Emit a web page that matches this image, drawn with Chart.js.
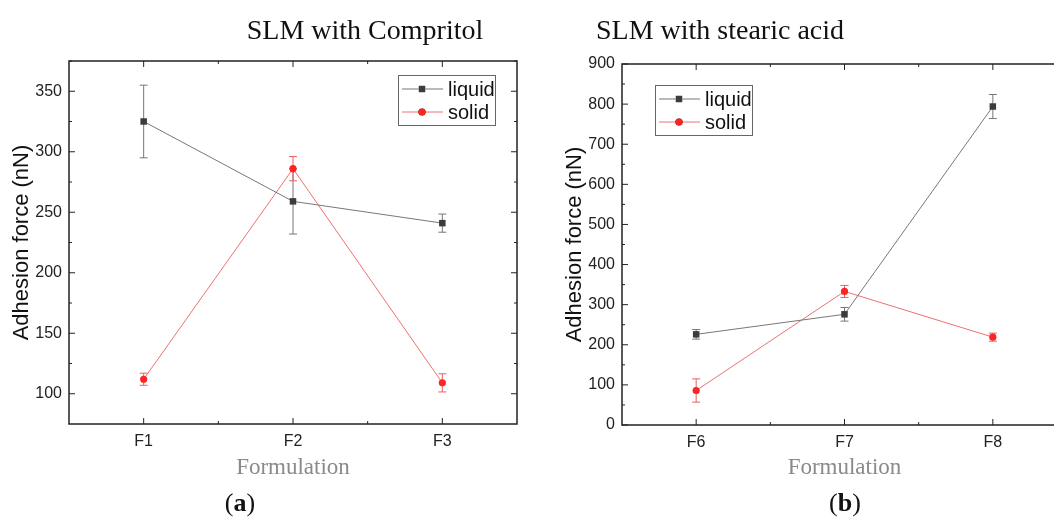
<!DOCTYPE html>
<html>
<head>
<meta charset="utf-8">
<script src="https://cdn.jsdelivr.net/npm/chart.js@4.4.1/dist/chart.umd.min.js"></script>
<style>
  html, body { margin: 0; padding: 0; background: #fff; overflow: hidden; width: 1054px; height: 522px; }
  .box { position: absolute; top: 0; }
  .txt { position: absolute; font-family: "Liberation Serif", serif; color: #111; white-space: nowrap; transform: translate(-50%, -50%); }
</style>
</head>
<body>
<div class="box" style="left:0"><canvas id="chartA" width="540" height="522"></canvas></div>
<div class="box" style="left:540px"><canvas id="chartB" width="540" height="522"></canvas></div>
<div class="txt" style="left:365px;top:30px;font-size:28px">SLM with Compritol</div>
<div class="txt" style="left:720px;top:30px;font-size:28px">SLM with stearic acid</div>
<div class="txt" style="left:240px;top:503px;font-size:26px">(<b>a</b>)</div>
<div class="txt" style="left:845px;top:503px;font-size:26px">(<b>b</b>)</div>
<script>
// panel (a): SLM with Compritol
const labelsA = ['F1', 'F2', 'F3'];
const liquidA = [325, 259, 241];
const liquidErrA = [30, 27, 7.5];
const solidA = [112, 286, 109];
const solidErrA = [5, 10, 7.5];
const yTicksA = [100, 150, 200, 250, 300, 350];

// panel (b): SLM with stearic acid
const labelsB = ['F6', 'F7', 'F8'];
const liquidB = [226, 276, 794];
const liquidErrB = [12, 17, 30];
const solidB = [86, 333, 219];
const solidErrB = [29, 15, 10];
const yTicksB = [0, 100, 200, 300, 400, 500, 600, 700, 800, 900];

const SANS = '"Liberation Sans", Arial, sans-serif';
const SERIF = '"Liberation Serif", serif';

function toPoints(values) {
  return values.map((v, i) => ({x: i + 1, y: v}));
}

// error bars drawn under the markers
const errorBars = {
  id: 'errorBars',
  beforeDatasetsDraw(chart) {
    const {ctx, scales: {x, y}} = chart;
    ctx.save();
    chart.data.datasets.forEach(ds => {
      ctx.strokeStyle = ds.errColor;
      ctx.lineWidth = 1;
      ds.data.forEach((p, i) => {
        const px = x.getPixelForValue(p.x);
        const top = y.getPixelForValue(p.y + ds.err[i]);
        const bot = y.getPixelForValue(p.y - ds.err[i]);
        ctx.beginPath();
        ctx.moveTo(px, top); ctx.lineTo(px, bot);
        ctx.moveTo(px - 4, top); ctx.lineTo(px + 4, top);
        ctx.moveTo(px - 4, bot); ctx.lineTo(px + 4, bot);
        ctx.stroke();
      });
    });
    ctx.restore();
  }
};

// Origin-style closed frame with inward ticks
const frame = {
  id: 'frame',
  afterDraw(chart, args, opts) {
    const {ctx, chartArea: a, scales: {x, y}} = chart;
    ctx.save();
    ctx.strokeStyle = '#222';
    ctx.lineWidth = 1.5;
    ctx.strokeRect(a.left, a.top, a.right - a.left, a.bottom - a.top);
    ctx.lineWidth = 1;
    const yt = opts.yTicks;
    const step = yt[1] - yt[0];
    yt.forEach((v, i) => {
      [[v, 6], [v + step / 2, 3]].forEach(([val, len]) => {
        if (val > y.max) return;
        const py = y.getPixelForValue(val);
        ctx.beginPath();
        ctx.moveTo(a.left, py); ctx.lineTo(a.left + len, py);
        ctx.moveTo(a.right, py); ctx.lineTo(a.right - len, py);
        ctx.stroke();
      });
      if (i === 0 && v - step / 2 > y.min) {
        const py = y.getPixelForValue(v - step / 2);
        ctx.beginPath();
        ctx.moveTo(a.left, py); ctx.lineTo(a.left + 3, py);
        ctx.moveTo(a.right, py); ctx.lineTo(a.right - 3, py);
        ctx.stroke();
      }
    });
    [1, 1.5, 2, 2.5, 3].forEach(val => {
      const len = Number.isInteger(val) ? 6 : 3;
      const px = x.getPixelForValue(val);
      ctx.beginPath();
      ctx.moveTo(px, a.top); ctx.lineTo(px, a.top + len);
      ctx.moveTo(px, a.bottom); ctx.lineTo(px, a.bottom - len);
      ctx.stroke();
    });
    ctx.restore();
  }
};

// boxed legend inside the plot
const boxLegend = {
  id: 'boxLegend',
  afterDraw(chart, args, opts) {
    const {ctx, chartArea: a} = chart;
    const bx = opts.side === 'right' ? a.right - opts.dx - 97 : a.left + opts.dx;
    const by = a.top + opts.dy;
    ctx.save();
    ctx.fillStyle = '#fff';
    ctx.fillRect(bx, by, 97, 50);
    ctx.strokeStyle = '#666';
    ctx.lineWidth = 1;
    ctx.strokeRect(bx + 0.5, by + 0.5, 97, 50);
    chart.data.datasets.forEach((ds, i) => {
      const ly = by + 14 + i * 23;
      ctx.strokeStyle = ds.borderColor;
      ctx.beginPath();
      ctx.moveTo(bx + 4, ly); ctx.lineTo(bx + 45, ly);
      ctx.stroke();
      Chart.helpers.drawPoint(ctx, {pointStyle: ds.pointStyle, radius: ds.pointRadius, borderWidth: 0}, bx + 24, ly);
      ctx.fillStyle = ds.pointBackgroundColor;
      ctx.fill();
      ctx.fillStyle = '#111';
      ctx.font = '20px ' + SANS;
      ctx.textBaseline = 'middle';
      ctx.fillText(ds.label, bx + 50, ly + 1);
    });
    ctx.restore();
  }
};

function makeChart(id, o) {
  const ctx = document.getElementById(id).getContext('2d');
  return new Chart(ctx, {
    type: 'line',
    data: {
      datasets: [
        {
          label: 'liquid',
          data: toPoints(o.liquid),
          err: o.liquidErr,
          errColor: '#777',
          borderColor: '#777',
          borderWidth: 1,
          pointStyle: 'rect',
          pointRadius: 4.6,
          pointBackgroundColor: '#3c3c3c',
          pointBorderWidth: 0,
          tension: 0,
        },
        {
          label: 'solid',
          data: toPoints(o.solid),
          err: o.solidErr,
          errColor: '#e86060',
          borderColor: '#ee7070',
          borderWidth: 1,
          pointStyle: 'circle',
          pointRadius: 3.6,
          pointBackgroundColor: '#ff2424',
          pointBorderWidth: 0,
          tension: 0,
        },
      ],
    },
    options: {
      responsive: false,
      animation: false,
      layout: {padding: {left: 0, top: o.top, right: o.right, bottom: 0}},
      scales: {
        x: {
          type: 'linear',
          min: 0.5,
          max: 3.5,
          afterBuildTicks: axis => { axis.ticks = [1, 2, 3].map(v => ({value: v})); },
          afterFit: axis => { axis.height = o.xHeight; },
          grid: {display: false, drawTicks: false},
          border: {display: false},
          ticks: {
            padding: 8,
            color: '#222',
            font: {family: SANS, size: 16},
            callback: v => o.labels[v - 1],
          },
          title: {
            display: true,
            text: 'Formulation',
            color: '#8a8a8a',
            font: {family: SERIF, size: 23},
            padding: {top: 0, bottom: 40},
          },
        },
        y: {
          min: o.yMin,
          max: o.yMax,
          afterBuildTicks: axis => { axis.ticks = o.yTicks.map(v => ({value: v})); },
          afterFit: axis => { axis.width = o.yWidth; },
          grid: {display: false, drawTicks: false},
          border: {display: false},
          ticks: {padding: 7, color: '#222', font: {family: SANS, size: 16}},
          title: {
            display: true,
            text: 'Adhesion force (nN)',
            color: '#111',
            font: {family: SANS, size: 22},
            padding: {top: o.yTitlePad, bottom: 0},
          },
        },
      },
      plugins: {
        legend: {display: false},
        tooltip: {enabled: false},
        frame: {yTicks: o.yTicks},
        boxLegend: o.legend,
      },
    },
    plugins: [errorBars, frame, boxLegend],
  });
}

makeChart('chartA', {
  labels: labelsA, liquid: liquidA, liquidErr: liquidErrA, solid: solidA, solidErr: solidErrA,
  yTicks: yTicksA, yMin: 75, yMax: 375,
  top: 61, right: 23, xHeight: 98, yWidth: 69, yTitlePad: 9,
  legend: {side: 'right', dx: 22, dy: 14},
});

makeChart('chartB', {
  labels: labelsB, liquid: liquidB, liquidErr: liquidErrB, solid: solidB, solidErr: solidErrB,
  yTicks: yTicksB, yMin: 0, yMax: 900,
  top: 64, right: 13, xHeight: 97, yWidth: 82, yTitlePad: 22,
  legend: {side: 'left', dx: 33, dy: 21},
});
</script>
</body>
</html>
